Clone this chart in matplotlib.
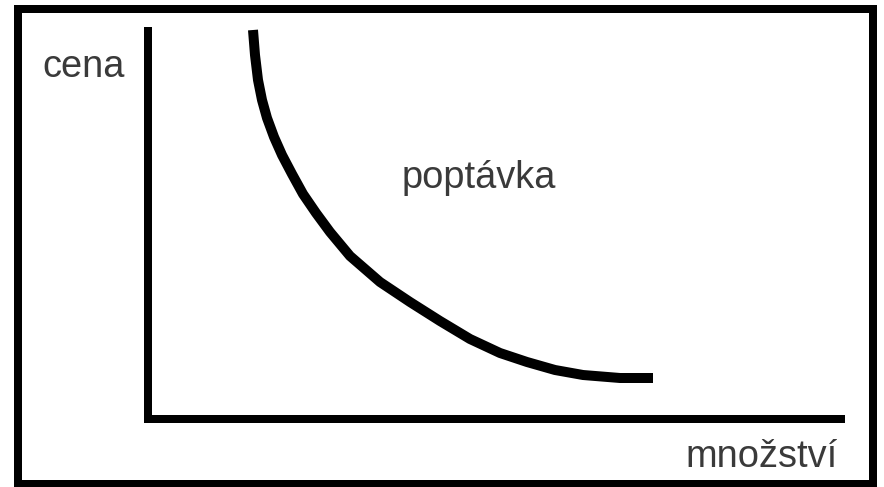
import matplotlib
matplotlib.use("Agg")
import matplotlib.pyplot as plt
from matplotlib.patches import Rectangle

# demand curve (quantity, price), origin at the axes corner
QUANTITY = [105, 107, 110, 114, 119, 126, 134, 144, 155, 168, 182, 202, 232,
            262, 292, 322, 352, 379, 407, 435, 472, 505]
PRICE = [389, 364, 339, 319, 301, 282, 264, 245, 225, 206, 187, 163, 137,
         117, 98, 80, 66, 57, 49, 44, 41, 41]

LABEL_Y = "cena"
LABEL_X = "množství"
LABEL_CURVE = "poptávka"

W, H = 884, 487
DPI = 100


def px(v):
    # pixel width -> points
    return v * 72 / DPI


def main():
    fig = plt.figure(figsize=(W / DPI, H / DPI), dpi=DPI)
    fig.patch.set_facecolor("white")

    # axes corner at pixel (148, 419)
    left, bottom, right, top = 148, 419, 841, 31
    ax = fig.add_axes([left / W, 1 - bottom / H, (right - left) / W, (bottom - top) / H])
    ax.set_xlim(0, right - left)
    ax.set_ylim(0, bottom - top)
    ax.set_facecolor("none")

    ax.plot(QUANTITY, PRICE, color="black", linewidth=px(10),
            solid_capstyle="butt", solid_joinstyle="round", clip_on=False)

    for name in ("top", "right"):
        ax.spines[name].set_visible(False)
    for name in ("left", "bottom"):
        ax.spines[name].set_linewidth(px(8))
        ax.spines[name].set_color("black")
        ax.spines[name].set_capstyle("projecting")
    ax.set_xticks([])
    ax.set_yticks([])

    text_kw = dict(family=["Liberation Sans", "DejaVu Sans"], fontsize=px(38),
                   color="#3a3a3a", va="baseline", ha="left")
    fig.text(42 / W, 1 - 77 / H, LABEL_Y, **text_kw)
    fig.text(402 / W, 1 - 188 / H, LABEL_CURVE, **text_kw)
    fig.text(685 / W, 1 - 467 / H, LABEL_X, **text_kw)

    # black frame round the whole picture
    fig.patches.append(Rectangle((18 / W, 1 - 484 / H), (873 - 18) / W, (484 - 9) / H,
                                 transform=fig.transFigure, fill=False,
                                 edgecolor="black", linewidth=px(8)))

    fig.savefig("out.png", dpi=DPI, facecolor="white")


if __name__ == "__main__":
    main()
